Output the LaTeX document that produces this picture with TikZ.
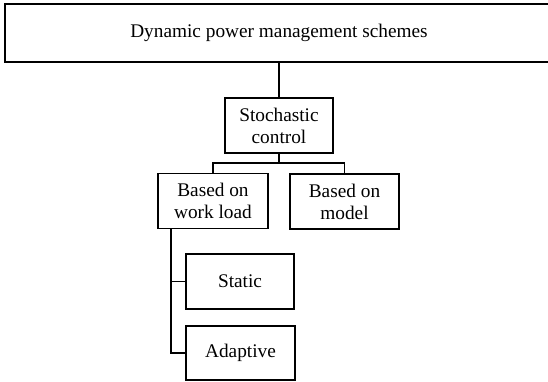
\documentclass[tikz,border=0pt]{standalone}
\usepackage{fontspec}
\setmainfont{Liberation Serif}
\begin{document}
\begin{tikzpicture}[x=1pt,y=1pt,
  box/.style={draw=black, line width=1.8pt, fill=white, inner sep=0pt, align=center,
    font=\fontsize{19.3}{21.8}\selectfont},
  conn/.style={draw=black, line width=1.8pt}]
\useasboundingbox (0,0) rectangle (548,-381);
\clip (0,0) rectangle (548,-381);
\node[box, draw=none, minimum width=546, minimum height=56] (top) at (279,-33) {Dynamic power management schemes};
\draw[conn] ([xshift=30pt]top.north east) -- (top.north west) -- (top.south west) -- ([xshift=30pt]top.south east);
\node[box, minimum width=108, minimum height=55] (stoch) at (279,-125.5) {Stochastic\\control};
\node[box, minimum width=110, minimum height=55] (work) at (213,-201) {Based on\\work load};
\node[box, minimum width=109, minimum height=55] (model) at (344.5,-201.5) {Based on\\model};
\node[box, minimum width=108, minimum height=55] (static) at (240,-281.5) {Static};
\node[box, minimum width=109, minimum height=54] (adapt) at (240.5,-353) {Adaptive};
\coordinate (split) at (279,-163);
\coordinate (trunk) at (171,-228);
\draw[conn] (top.south) -- (stoch.north);
\draw[conn] (stoch.south) -- (split);
\draw[conn] (work.north) |- (split) -| (model.north);
\draw[conn] (trunk |- work.south) |- (adapt.west);
\draw[conn] (trunk |- static.west) -- (static.west);
\end{tikzpicture}
\end{document}
